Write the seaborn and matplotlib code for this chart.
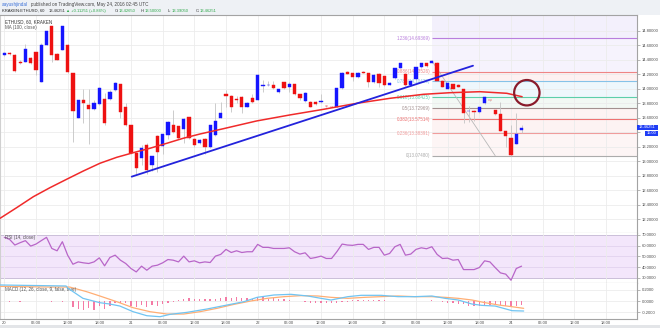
import matplotlib
matplotlib.use("Agg")
import matplotlib.pyplot as plt
import seaborn as sns
import numpy as np
from matplotlib.patches import Ellipse, Rectangle

sns.set_theme(style="white")
plt.rcParams['font.family'] = ['Liberation Sans', 'DejaVu Sans']

# ---------------- data (hourly candles, hour 0 = May 20 00:00) ----------------
opens = [14.463, 14.491, 14.468, 14.375, 14.375, 14.422, 14.500, 14.098, 14.607, 14.861,
         14.477, 14.537, 14.607, 14.213, 13.597, 13.843, 13.773, 13.713, 13.787, 13.857,
         13.857, 13.982, 14.061, 13.741, 13.496, 13.111, 13.047, 13.218, 12.940, 13.343,
         13.204, 13.357, 13.496, 13.482, 13.440, 13.602, 13.311, 13.255, 13.311, 13.195,
         13.357, 13.598, 13.926, 13.903, 13.862, 13.889, 13.750, 13.875, 13.843, 14.042,
         14.050, 14.056, 13.959, 14.088, 14.019, 14.061, 13.922, 13.834, 13.820, 13.820,
         13.815, 13.765, 13.752, 13.750, 14.005, 14.232, 14.213, 14.158, 14.232, 14.213,
         14.088, 14.204, 14.170, 14.055, 14.144, 14.283, 14.204, 14.051, 14.130, 14.297,
         14.352, 14.352, 14.361, 14.111, 13.996, 14.065, 14.051, 13.996, 13.695, 13.695,
         13.681, 13.797, 13.847, 13.704, 13.648, 13.417, 13.324, 13.241, 13.426]
closes = [14.491, 14.473, 14.250, 14.352, 14.547, 14.352, 14.260, 14.607, 14.792, 14.468,
          14.398, 14.861, 14.227, 13.695, 13.843, 13.797, 13.713, 13.797, 14.005, 13.519,
          13.959, 14.084, 13.681, 13.496, 13.111, 12.903, 13.181, 12.871, 13.065, 13.125,
          13.371, 13.542, 13.403, 13.324, 13.579, 13.324, 13.227, 13.297, 13.195, 13.496,
          13.556, 13.658, 13.903, 13.741, 13.843, 13.741, 13.806, 13.811, 14.190, 14.056,
          14.052, 14.005, 13.991, 14.014, 14.061, 13.922, 13.866, 13.945, 13.750, 13.787,
          13.825, 13.760, 13.750, 14.005, 14.223, 14.204, 14.158, 14.223, 14.218, 14.088,
          14.195, 14.075, 14.050, 14.084, 14.283, 14.352, 14.051, 14.111, 14.297, 14.352,
          14.306, 14.384, 14.111, 14.028, 14.084, 13.996, 14.028, 13.658, 13.696, 13.681,
          13.741, 13.880, 13.838, 13.648, 13.417, 13.343, 13.079, 13.380, 13.463]
highs = [14.500, 14.500, 14.480, 14.390, 14.620, 14.440, 14.510, 14.630, 14.800, 14.870,
         14.490, 14.870, 14.620, 14.220, 13.850, 14.000, 14.000, 13.850, 14.020, 13.940,
         13.980, 14.090, 14.070, 13.800, 13.500, 13.120, 13.220, 13.250, 13.070, 13.360,
         13.380, 13.550, 13.700, 13.490, 13.590, 13.610, 13.320, 13.310, 13.320, 13.500,
         13.800, 13.820, 13.980, 13.910, 13.900, 13.900, 13.820, 13.930, 14.200, 14.120,
         14.100, 14.100, 14.000, 14.090, 14.090, 14.070, 13.930, 13.950, 13.830, 13.830,
         13.920, 13.780, 13.760, 14.010, 14.230, 14.240, 14.220, 14.230, 14.240, 14.220,
         14.200, 14.210, 14.180, 14.090, 14.290, 14.360, 14.210, 14.120, 14.300, 14.360,
         14.360, 14.390, 14.370, 14.120, 14.090, 14.070, 14.060, 14.000, 13.760, 13.700,
         13.750, 13.890, 13.850, 13.710, 13.820, 13.420, 13.500, 13.658, 13.500]
lows = [14.455, 14.465, 14.230, 14.340, 14.370, 14.340, 14.190, 14.090, 14.600, 14.370,
        14.390, 14.530, 14.220, 13.260, 13.590, 13.520, 13.240, 13.700, 13.780, 13.500,
        13.850, 13.970, 13.600, 13.480, 13.100, 12.820, 12.950, 12.820, 12.860, 12.850,
        13.100, 13.300, 13.390, 13.300, 13.250, 13.310, 13.200, 13.240, 13.100, 13.180,
        13.350, 13.590, 13.750, 13.680, 13.800, 13.670, 13.740, 13.800, 13.840, 13.950,
        14.040, 14.000, 13.940, 14.000, 13.950, 13.910, 13.850, 13.820, 13.740, 13.770,
        13.800, 13.750, 13.740, 13.740, 14.000, 14.200, 14.100, 14.150, 14.210, 14.020,
        14.080, 14.020, 14.040, 14.050, 14.140, 14.280, 14.040, 14.040, 14.120, 14.290,
        14.300, 14.350, 14.100, 14.020, 13.990, 13.990, 14.020, 13.530, 13.540, 13.560,
        13.670, 13.790, 13.830, 13.640, 13.410, 13.195, 13.075, 13.230, 13.390]
hours = list(range(len(opens)))

ma_hours = [-0.8, 2.35, 5.5, 8.66, 11.82, 14.97, 18.13, 21.3, 24.44, 27.6, 30.8, 33.9,
            37.08, 41.5, 47.8, 54.1, 60.5, 66.8, 73.1, 79.4, 84.4, 90.1, 95.2, 98.1]
ma_vals = [12.210, 12.357, 12.508, 12.633, 12.749, 12.863, 12.970, 13.052, 13.116, 13.177,
           13.246, 13.315, 13.374, 13.447, 13.554, 13.637, 13.715, 13.798, 13.867, 13.922,
           13.944, 13.958, 13.936, 13.889]

trend_hours = [24.14, 88.8]
trend_prices = [12.785, 14.317]

fib_ratios = ["1.236", "0.886", "0.786", "0.618", "0.5", "0.382", "0.236", "0"]
fib_prices = [14.69369, 14.23526, 14.10429, 13.88425, 13.72969, 13.57514, 13.38391, 13.07480]
fib_high = 14.38458
fib_start = 81.0
fib_low_hour = 93.0

rsi_vals = [67.8, 65.9, 60.6, 62.8, 64.7, 59.6, 61.5, 64.7, 67.8, 57.4,
            55.2, 63.7, 51.1, 42.6, 44.8, 43.9, 43.3, 44.8, 48.6, 41.1,
            48.9, 51.1, 46.4, 43.3, 38.6, 35.4, 40.8, 37.0, 40.8, 41.7,
            43.9, 47.0, 46.4, 44.8, 50.2, 44.8, 45.8, 43.9, 44.8, 44.2,
            50.2, 51.8, 56.5, 53.6, 55.2, 53.6, 54.3, 54.3, 61.2, 58.4,
            58.4, 57.4, 57.4, 57.4, 58.0, 54.3, 52.1, 53.3, 48.0, 48.9,
            50.2, 48.0, 48.0, 54.3, 61.5, 60.6, 60.3, 61.2, 61.2, 56.5,
            58.4, 58.4, 51.1, 52.7, 59.0, 61.2, 51.1, 52.1, 56.5, 58.0,
            57.1, 59.0, 51.8, 48.0, 48.3, 46.4, 47.0, 37.6, 37.6, 37.6,
            39.5, 45.8, 44.8, 39.5, 34.5, 33.3, 27.6, 38.6, 40.8]

macd_hours = [-0.8, 11.7, 12.1, 14.9, 18.1, 20.0, 21.9, 24.4, 27.0, 29.5, 31.4, 34.6,
              38.4, 42.2, 45.4, 47.9, 51.1, 54.3, 57.5, 60.0, 61.9, 65.1, 67.6, 71.4,
              74.6, 77.8, 81.0, 83.5, 86.0, 88.6, 90.5, 93.0, 96.2, 98.4]
macd_vals = [0.287, 0.269, 0.227, 0.048, -0.030, -0.054, -0.090, -0.191, -0.263, -0.281,
             -0.239, -0.203, -0.143, -0.072, -0.012, 0.066, 0.108, 0.120, 0.090, 0.048,
             0.018, 0.078, 0.102, 0.102, 0.078, 0.078, 0.090, 0.048, 0.018, -0.054,
             -0.078, -0.090, -0.173, -0.179]
signal_hours = [-0.8, 8.6, 12.4, 15.6, 18.1, 21.3, 24.4, 27.6, 30.8, 34.0, 37.1, 40.3,
                43.5, 46.7, 49.8, 53.0, 56.2, 59.4, 61.9, 65.1, 68.3, 71.4, 74.6, 77.8,
                81.0, 83.5, 86.0, 88.6, 91.1, 93.7, 96.2, 98.4]
signal_vals = [0.262, 0.250, 0.250, 0.167, 0.090, -0.012, -0.120, -0.191, -0.233, -0.233,
               -0.191, -0.131, -0.060, 0.0, 0.048, 0.078, 0.096, 0.090, 0.066, 0.048,
               0.066, 0.078, 0.090, 0.078, 0.078, 0.066, 0.048, 0.018, -0.030, -0.072,
               -0.102, -0.131]
hist_vals = [0, -0.024, 0, -0.012, 0, 0, 0, 0, 0, -0.024,
             0, -0.018, 0, -0.114, -0.149, -0.161, -0.132, -0.161, -0.090, -0.149,
             -0.090, -0.042, -0.030, -0.042, -0.090, -0.114, -0.072, -0.102, -0.072, -0.090,
             -0.054, -0.030, -0.012, 0.018, 0.030, 0.048, 0.030, 0.030, 0.030, 0.036,
             0.042, 0.048, 0.066, 0.048, 0.078, 0.048, 0.060, 0.042, 0.066, 0.066,
             0.042, 0.060, 0.042, 0.030, 0.018, 0.006, 0.0, -0.018, -0.030, -0.042,
             -0.030, -0.042, -0.042, -0.030, -0.012, -0.012, 0.012, 0.018, 0.018, 0.018,
             0.024, 0.024, 0.012, 0.006, 0.0, -0.006, 0.0, 0.006, 0.0, 0.006,
             0.006, 0.012, 0.0, -0.012, -0.042, -0.042, -0.054, -0.060, -0.090, -0.090,
             -0.090, -0.072, -0.072, -0.072, -0.072, -0.090, -0.090, -0.090, -0.072]

tick_hours = list(range(0, 120, 6))
tick_labels = ["20", "06:00", "12:00", "18:00", "21", "06:00", "12:00", "18:00",
               "22", "06:00", "12:00", "18:00", "23", "06:00", "12:00", "18:00",
               "24", "06:00", "12:00", "18:00"]

last_price = "13.46251"
countdown = "15:00"

# ---------------- figure ----------------
W, H = 660, 328
fig = plt.figure(figsize=(6.6, 3.28), dpi=100)
fig.patch.set_facecolor("white")

def fy(py):
    return 1 - py / H

XMIN, XMAX = -0.815, 119.87
RIGHT = 637 / W
SMALL = 3.0
LABEL = 3.25
AXC = "#a3a3a3"
GRID = "#ececec"

# header band and bottom strip
fig.patches.append(Rectangle((0, fy(15.3)), 1, 15.3 / H, transform=fig.transFigure,
                             facecolor="#eef1f5", edgecolor="none", zorder=-5))
fig.patches.append(Rectangle((0, 0), 1, 3.2 / H, transform=fig.transFigure,
                             facecolor="#e3e5e8", edgecolor="none", zorder=-5))

ax = fig.add_axes([0, fy(232.7), RIGHT, (232.7 - 15.3) / H])
ax_rsi = fig.add_axes([0, fy(282.7), RIGHT, 50 / H])
ax_macd = fig.add_axes([0, fy(318.5), RIGHT, 35.8 / H])

for a in (ax, ax_rsi, ax_macd):
    a.set_xlim(XMIN, XMAX)
    a.set_facecolor("white")
    a.set_axisbelow(True)
    a.set_xticks(tick_hours)
    a.grid(True, axis="x", color=GRID, lw=0.6)
    a.yaxis.tick_right()
    a.tick_params(axis="y", which="both", direction="out", length=2, width=0.5,
                  colors="#9a9a9a", labelsize=SMALL, labelcolor="#4d4d4d", pad=1.5)
    a.tick_params(axis="x", length=0, labelsize=SMALL, labelcolor="#4d4d4d", pad=1.5)
    a.spines["left"].set_color("#d0d0d0")
    a.spines["left"].set_linewidth(0.8)
    for s in ("right", "bottom", "top"):
        a.spines[s].set_color(AXC)
        a.spines[s].set_linewidth(0.8)

ax.set_xticklabels([])
ax_rsi.set_xticklabels([])
ax_macd.set_xticklabels(tick_labels)
ax_rsi.spines["top"].set_visible(False)
ax_macd.spines["top"].set_visible(False)

# ---------------- main pane ----------------
ax.set_ylim(12.011, 15.013)
yt = np.round(np.arange(12.2, 14.81, 0.2), 1)
ax.set_yticks(yt)
ax.set_yticklabels(["" if abs(v - 13.4) < 1e-6 else f"{v:.5f}" for v in yt])
ax.grid(True, axis="y", color=GRID, lw=0.6)

# fib shading
band_colors = ["#f3f0fc", "#f6f3fd", "#fdf1f1", "#eef7fc", "#f2f8f4", "#fdf3f3", "#fdf3f3", "#fdf5f5"]
edges = [15.2] + fib_prices
for i in range(len(fib_prices)):
    ax.fill_between([fib_start, XMAX], edges[i + 1], edges[i], color=band_colors[i],
                    lw=0, zorder=0.2)
fib_colors = ["#b97fdd", "#ee8585", "#86c2e8", "#5ccfa9", "#a39090", "#ee7272", "#f09c9c", "#acacac"]
for r, p, c in zip(fib_ratios, fib_prices, fib_colors):
    ax.hlines(p, fib_start, XMAX, color=c, lw=0.8, zorder=1)
    ax.text(fib_start - 0.2, p, f"{r}({p:.5f})", ha="right", va="center",
            fontsize=LABEL, color=c, zorder=1)
ax.plot([fib_start, fib_low_hour], [fib_high, fib_prices[-1]], color="#b8b8b8", lw=0.6, zorder=1)

# candles
up_c, dn_c = "#1515ff", "#ee1111"
ax.vlines(hours, lows, highs, color="#c4c4c4", lw=0.6, zorder=2)
colors = [up_c if c >= o else dn_c for o, c in zip(opens, closes)]
heights = [c - o for o, c in zip(opens, closes)]
ax.bar(hours, heights, bottom=opens, width=0.62, color=colors, edgecolor=colors,
       linewidth=0.3, zorder=3)

sns.lineplot(x=ma_hours, y=ma_vals, ax=ax, color="#f02a2a", lw=1.1, zorder=4)
sns.lineplot(x=trend_hours, y=trend_prices, ax=ax, color="#2323dc", lw=1.3, zorder=4)

ax.add_patch(Ellipse((99.0, 13.944), width=25.4 / 5.278, height=25.4 / 72.42,
                     fill=False, edgecolor="#8a1b2b", lw=1.6, zorder=6))

ax.text(0.008, 0.969, "ETHUSD, 60, KRAKEN", transform=ax.transAxes, fontsize=LABEL,
        color="#333333", va="center", ha="left")
ax.text(0.008, 0.942, "MA (100, close)", transform=ax.transAxes, fontsize=LABEL,
        color="#555555", va="center", ha="left")

# ---------------- RSI pane ----------------
ax_rsi.set_ylim(25.3, 72.15)
ax_rsi.axhspan(30, 70, color="#f3e6fb", lw=0, zorder=0.1)
for v in (40, 50, 60):
    ax_rsi.axhline(v, color="#e2d2ee", lw=0.6, zorder=0.3)
for v in (30, 70):
    ax_rsi.axhline(v, color="#cbbfd9", lw=0.7, zorder=0.3)
ax_rsi.set_yticks([30, 40, 50, 60, 70])
ax_rsi.set_yticklabels([f"{v:.4f}" for v in (30, 40, 50, 60, 70)])
sns.lineplot(x=hours, y=rsi_vals, ax=ax_rsi, color="#b866c8", lw=0.9, zorder=3)
ax_rsi.text(0.008, 0.9, "RSI (14, close)", transform=ax_rsi.transAxes, fontsize=LABEL,
            color="#555555", va="center", ha="left")

# ---------------- MACD pane ----------------
ax_macd.set_ylim(-0.313, 0.328)
ax_macd.set_yticks([-0.2, 0.0, 0.2])
ax_macd.set_yticklabels(["-0.2000", "0.0000", "0.2000"])
ax_macd.grid(True, axis="y", color=GRID, lw=0.6)
ax_macd.bar(hours, hist_vals, width=0.25, color="#f47aa5", lw=0, zorder=2)
sns.lineplot(x=signal_hours, y=signal_vals, ax=ax_macd, color="#ffae74", lw=0.9, zorder=3)
sns.lineplot(x=macd_hours, y=macd_vals, ax=ax_macd, color="#70c4f2", lw=0.9, zorder=4)
ax_macd.text(0.008, 0.82, "MACD (12, 26, close, 9, false, true)", transform=ax_macd.transAxes,
             fontsize=LABEL, color="#555555", va="center", ha="left")

for a in (ax, ax_rsi, ax_macd):
    a.set_xlabel("")
    a.set_ylabel("")
    a.set_xlim(XMIN, XMAX)

# ---------------- header ----------------
def ftext(px, py, s, color, fs=3.0):
    fig.text(px / W, fy(py), s, fontsize=fs, color=color, ha="left", va="center")

ftext(2, 4.5, "aayushjindal", "#3a6fd8", 3.3)
ftext(31, 4.5, "published on TradingView.com, May 24, 2016 02:45 UTC", "#444444", 3.3)
ftext(2, 11, "KRAKEN:ETHUSD, 60", "#222222")
ftext(49, 11, "13.46251", "#333333")
ftext(66.5, 11, "\u25b2 +0.11251 (+0.84%)", "#2fa84a")
ftext(115, 11, "O:", "#333333")
ftext(119, 11, "13.42650", "#2fa84a")
ftext(141, 11, "H:", "#333333")
ftext(145, 11, "13.50000", "#2fa84a")
ftext(168, 11, "L:", "#333333")
ftext(171.5, 11, "13.39050", "#2fa84a")
ftext(196, 11, "C:", "#333333")
ftext(200, 11, "13.46251", "#2fa84a")

# last price boxes on right axis
fig.patches.append(Rectangle((637 / W, fy(129.6)), 21 / W, 4.8 / H, transform=fig.transFigure,
                             facecolor="#1f3df5", edgecolor="none", zorder=10))
fig.text(647.5 / W, fy(127.2), last_price, fontsize=2.9, color="white", ha="center",
         va="center", zorder=11)
fig.patches.append(Rectangle((645 / W, fy(135.8)), 12.5 / W, 4.8 / H, transform=fig.transFigure,
                             facecolor="#1f3df5", edgecolor="none", zorder=10))
fig.text(651.2 / W, fy(133.4), countdown, fontsize=2.9, color="white", ha="center",
         va="center", zorder=11)

fig.savefig("out.png", dpi=100, facecolor=fig.get_facecolor())
